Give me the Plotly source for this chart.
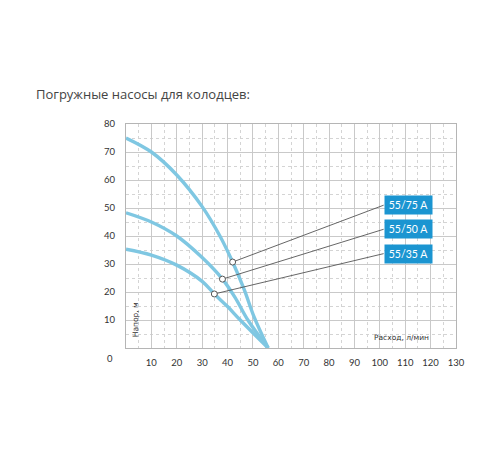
import plotly.graph_objects as go

# Кривые напор/расход для трёх насосов
flow_75 = [0, 10, 20, 30, 37, 42, 46.5, 50.5, 56]
head_75 = [75, 70, 61.8, 50.5, 40, 30.7, 21, 11, 0]

flow_50 = [0, 10, 20, 30, 38, 43, 48, 56]
head_50 = [48.3, 45, 40, 32.3, 24.6, 18, 10, 0]

flow_35 = [0, 10, 20, 30, 34.8, 40, 45, 56]
head_35 = [35.3, 33.2, 29.6, 23.8, 19.3, 14.8, 10, 0]

# Метки насосов: точка на кривой и позиция подписи
pump_labels = ['55/75 A', '55/50 A', '55/35 A']
point_x = [42, 38, 34.8]
point_y = [30.7, 24.6, 19.3]
label_x = [101.5, 101.5, 101.5]
label_y = [51, 42.4, 33.7]

x_ticks = [10, 20, 30, 40, 50, 60, 70, 80, 90, 100, 110, 120, 130]
y_ticks = [10, 20, 30, 40, 50, 60, 70, 80]

curve_color = '#7fc7e2'
box_color = '#1b95d1'

fig = go.Figure()

for fx, hy in [(flow_75, head_75), (flow_50, head_50), (flow_35, head_35)]:
    fig.add_trace(go.Scatter(
        x=fx, y=hy, mode='lines',
        line=dict(color=curve_color, width=3.4, shape='spline', smoothing=1.0),
        hoverinfo='skip', showlegend=False, cliponaxis=False
    ))

# Выноски от точек к подписям
for i in range(len(pump_labels)):
    fig.add_trace(go.Scatter(
        x=[point_x[i], label_x[i]], y=[point_y[i], label_y[i]],
        mode='lines', line=dict(color='#555555', width=0.9),
        hoverinfo='skip', showlegend=False
    ))

fig.add_trace(go.Scatter(
    x=point_x, y=point_y, mode='markers',
    marker=dict(size=6, color='white', line=dict(color='#555555', width=1)),
    hoverinfo='skip', showlegend=False
))

for i, lab in enumerate(pump_labels):
    fig.add_annotation(
        x=label_x[i], y=label_y[i], xanchor='left', yanchor='middle',
        text=lab, showarrow=False,
        font=dict(family='Lato', size=10.5, color='white'),
        bgcolor=box_color, borderpad=3, width=41, height=12
    )

fig.add_annotation(x=108.7, y=3.9, text='Расход, л/мин', showarrow=False,
                   font=dict(family='DejaVu Sans', size=7.5, color='#333333'))
fig.add_annotation(x=3.6, y=10, text='Напор, м', showarrow=False, textangle=-90,
                   font=dict(family='DejaVu Sans', size=7.5, color='#333333'))
fig.add_annotation(x=-0.048, y=-0.045, xref='paper', yref='paper', text='0',
                   xanchor='center', yanchor='middle', showarrow=False,
                   font=dict(family='Lato', size=9.5, color='#333333'))

grid = dict(
    showgrid=True, gridcolor='#c9c9c9', gridwidth=1,
    showline=True, linecolor='#b5b5b5', linewidth=1, mirror=True,
    zeroline=False, ticks='',
    tickfont=dict(family='Lato', size=9.5, color='#333333'),
    minor=dict(dtick=5, showgrid=True, gridcolor='#d4d4d4', griddash='3px,3px', gridwidth=1)
)

fig.update_layout(
    width=500, height=450,
    paper_bgcolor='white', plot_bgcolor='white',
    margin=dict(l=118, r=52, t=116, b=110),
    title=dict(text='Погружные насосы для колодцев:', x=0.056, xanchor='left',
               y=0.809, yanchor='middle',
               font=dict(family='Open Sans', size=13, color='#444444')),
    xaxis=dict(range=[0, 130], tickvals=x_ticks, ticklabelstandoff=6, **grid),
    yaxis=dict(range=[0, 80], tickvals=y_ticks, ticklabelstandoff=8, **grid),
)

fig.write_html("out.html")
